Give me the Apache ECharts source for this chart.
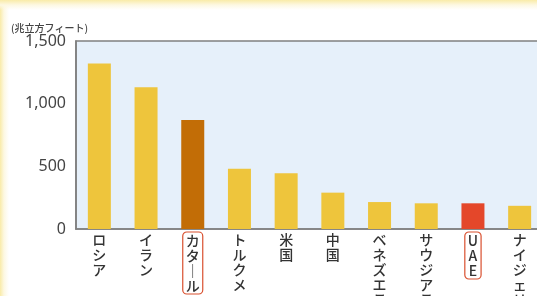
<!DOCTYPE html>
<html>
<head>
<meta charset="utf-8">
<script src="https://cdn.jsdelivr.net/npm/echarts@6/dist/echarts.min.js"></script>
<style>
  html, body { margin: 0; padding: 0; }
  #main {
    width: 537px; height: 296px;
    background:
      linear-gradient(to bottom, #f9eba8 0, #fdf8e2 5px, rgba(255,255,255,0) 10px),
      linear-gradient(to right, #f9eba8 0, #fdf8e2 4px, rgba(255,255,255,0) 9px),
      #ffffff;
  }
</style>
</head>
<body>
<div id="main"></div>
<script>
// 天然ガス埋蔵量（兆立方フィート）
var categories = ['ロシア', 'イラン', 'カタール', 'トルクメニスタン', '米国', '中国', 'ベネズエラ', 'サウジアラビア', 'UAE', 'ナイジェリア'];
var reserves = [1320, 1130, 870, 480, 445, 290, 215, 205, 205, 185];
var yTicks = [0, 500, 1000, 1500];

var chart = echarts.init(document.getElementById('main'));

// 縦書き風に1文字ずつ改行（長音は縦棒に）
function vertical (s) {
  return s.split('').map(function (c) { return c === 'ー' ? '｜' : c; }).join('\n');
}

var boxed = { 'カタール': '#d9502f', 'UAE': '#d9502f' };
var barColor = { 'カタール': '#c26d06', 'UAE': '#e4472a' };

chart.setOption({
  animation: false,
  grid: {
    left: 76, top: 41, width: 467, height: 188,
    outerBoundsMode: 'none',
    containLabel: false,
    show: true,
    backgroundColor: '#e6f0fa',
    borderColor: '#808080',
    borderWidth: 1.6
  },
  xAxis: {
    type: 'category',
    data: categories.map(function (c) {
      var item = { value: c };
      if (boxed[c]) {
        item.textStyle = {
          borderColor: boxed[c], borderWidth: 1.2, borderRadius: 4,
          padding: [1, 3, 1, 3]
        };
      }
      return item;
    }),
    axisLine: { lineStyle: { color: '#808080', width: 1.6 } },
    axisTick: { inside: true, length: 4, lineStyle: { color: '#666' } },
    axisLabel: {
      interval: 0,
      hideOverlap: false,
      margin: 3,
      fontFamily: 'Noto Sans CJK JP',
      fontSize: 14,
      fontWeight: 500,
      lineHeight: 15,
      color: '#333',
      formatter: function (v) { return vertical(v); }
    }
  },
  yAxis: {
    type: 'value',
    min: 0, max: 1500, interval: 500,
    name: '(兆立方フィート)',
    nameLocation: 'end',
    nameGap: 7,
    nameTextStyle: {
      fontFamily: 'Noto Sans CJK JP', fontSize: 10, fontWeight: 500, color: '#444',
      align: 'left', padding: [0, 0, 0, -65]
    },
    axisLine: { show: true, lineStyle: { color: '#808080', width: 1.6 } },
    axisTick: { show: false },
    splitLine: { show: false },
    axisLabel: {
      margin: 10,
      fontFamily: 'Noto Sans', fontSize: 16, color: '#444',
      formatter: function (v) { return yTicks.indexOf(v) >= 0 ? v.toLocaleString('en-US') : ''; }
    }
  },
  series: [{
    type: 'bar',
    data: reserves,
    barWidth: 23,
    itemStyle: {
      color: function (p) { return barColor[categories[p.dataIndex]] || '#eec53c'; }
    }
  }]
});
</script>
</body>
</html>
